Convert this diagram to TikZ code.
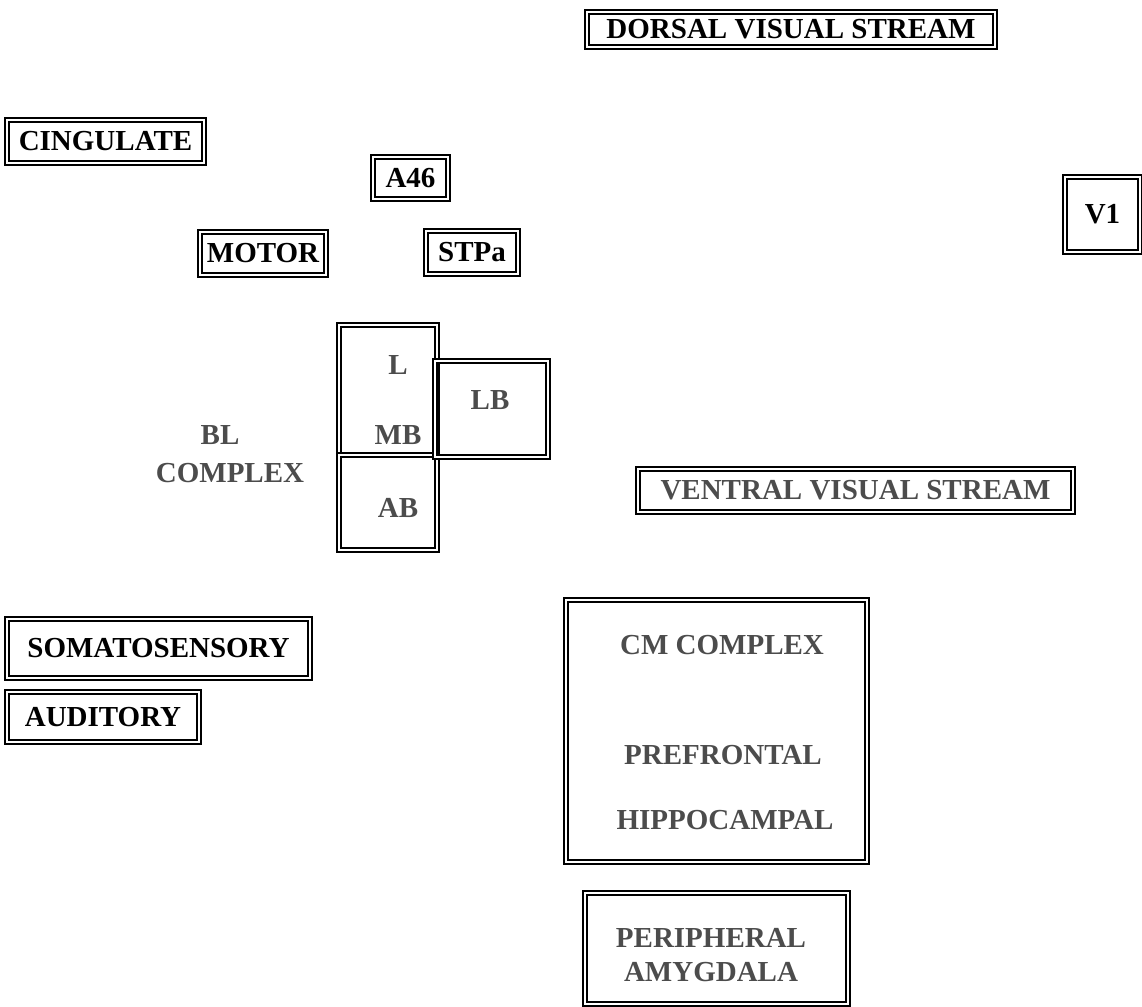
\documentclass[tikz,border=0pt]{standalone}
\usepackage{fontspec}
\setmainfont{Liberation Serif}
\begin{document}
\begin{tikzpicture}[x=0.5pt,y=-0.5pt,
  box/.style={draw, line width=0.7pt, double, double distance=1.4pt, inner sep=0pt},
  lbl/.style={font=\fontsize{14.5}{17}\selectfont\bfseries, text=black},
  hol/.style={font=\fontsize{14.5}{17}\selectfont\bfseries, text=black!70, align=center}]
\useasboundingbox (0,0) rectangle (1142,1007);
% boxes with labels
\node[box, lbl, minimum width=204pt, minimum height=17.5pt] (dorsal) at (791,29.5) {DORSAL VISUAL STREAM};
\node[box, lbl, minimum width=98.5pt, minimum height=21.5pt] (cing) at (105.5,141.5) {CINGULATE};
\node[box, lbl, minimum width=37.5pt, minimum height=21pt] (a46) at (410.5,178) {A46};
\node[box, lbl, minimum width=63pt, minimum height=21.5pt] (motor) at (263,253.5) {MOTOR};
\node[box, lbl, minimum width=46pt, minimum height=21.5pt] (stpa) at (472,252.5) {STPa};
\node[box, lbl, minimum width=37.5pt, minimum height=37.5pt] (v1) at (1102.5,214.5) {V1};
\node[box, hol, minimum width=217.5pt, minimum height=21.5pt] (ventral) at (855.5,490.5) {VENTRAL VISUAL STREAM};
\node[box, lbl, minimum width=151.5pt, minimum height=29.5pt] (soma) at (158.5,648.5) {SOMATOSENSORY};
\node[box, lbl, minimum width=96pt, minimum height=25pt] (aud) at (103,717) {AUDITORY};
% BL complex boxes
\node[box, minimum width=49pt, minimum height=65pt] (upper) at (388,390) {};
\node[box, minimum width=49pt, minimum height=47.5pt] (lower) at (388,502.5) {};
\node[box, minimum width=56.5pt, minimum height=48pt] (lbbox) at (491.5,409) {};
\node[hol] (l) at (398,365) {L};
\node[hol] (mb) at (398,435) {MB};
\node[hol] (lb) at (490,400) {LB};
\node[hol] (ab) at (398,508) {AB};
\node[hol] (bl) at (220,435) {BL};
\node[hol] (complex) at (230,473) {COMPLEX};
% CM complex
\node[box, minimum width=150.5pt, minimum height=131pt] (cm) at (716.5,731) {};
\node[hol] (cmt) at (722,645) {CM COMPLEX};
\node[hol] (pref) at (723,755) {PREFRONTAL};
\node[hol] (hipp) at (725,820) {HIPPOCAMPAL};
% peripheral
\node[box, minimum width=131.5pt, minimum height=55.5pt] (per) at (716.5,948.5) {};
\node[hol] (pert) at (711,955) {PERIPHERAL\\AMYGDALA};
\end{tikzpicture}
\end{document}
